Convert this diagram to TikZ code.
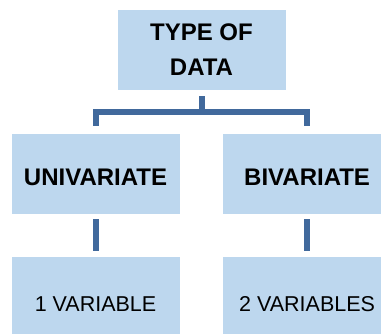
\documentclass[tikz,border=0pt]{standalone}
\usepackage{fontspec}
\setmainfont{Liberation Sans}
\usepackage{tikz}
\usetikzlibrary{positioning,calc}
\definecolor{boxblue}{HTML}{BDD7EE}
\definecolor{linkblue}{HTML}{41699C}
\tikzset{
    box/.style={fill=boxblue, draw=white, line width=0.6pt, minimum width=169pt, minimum height=81pt, inner sep=0pt},
    head/.style={box, font=\fontsize{24}{35}\selectfont\bfseries, align=center},
    kind/.style={box, font=\fontsize{24}{28}\selectfont\bfseries, text height=25pt, text depth=0pt},
    count/.style={box, font=\fontsize{21.5}{25}\selectfont, text height=29pt, text depth=0pt},
    link/.style={linkblue, line width=6pt}
}
\begin{document}
\begin{tikzpicture}[node distance=42pt]
    \clip (0,0) rectangle (381pt,-334pt);
    \useasboundingbox (0,0) rectangle (381pt,-334pt);
    \node[head] (type) at (201.5pt,-49.5pt) {TYPE OF\\DATA};
    \node[kind] (uni) at (95.5pt,-173.5pt) {UNIVARIATE};
    \node[kind, right=of uni] (bi) {BIVARIATE};
    \node[count, below=of uni] (one) {1 VARIABLE};
    \node[count, below=of bi] (two) {2 VARIABLES};
    \draw[link] ([yshift=-6pt]type.south) -- ([yshift=-22pt]type.south);
    \draw[link] ([yshift=7pt]uni.north) |- ([yshift=-22pt]type.south) -| ([yshift=7pt]bi.north);
    \draw[link] ([yshift=-5pt]uni.south) -- ([yshift=5pt]one.north);
    \draw[link] ([yshift=-5pt]bi.south) -- ([yshift=5pt]two.north);
\end{tikzpicture}
\end{document}
